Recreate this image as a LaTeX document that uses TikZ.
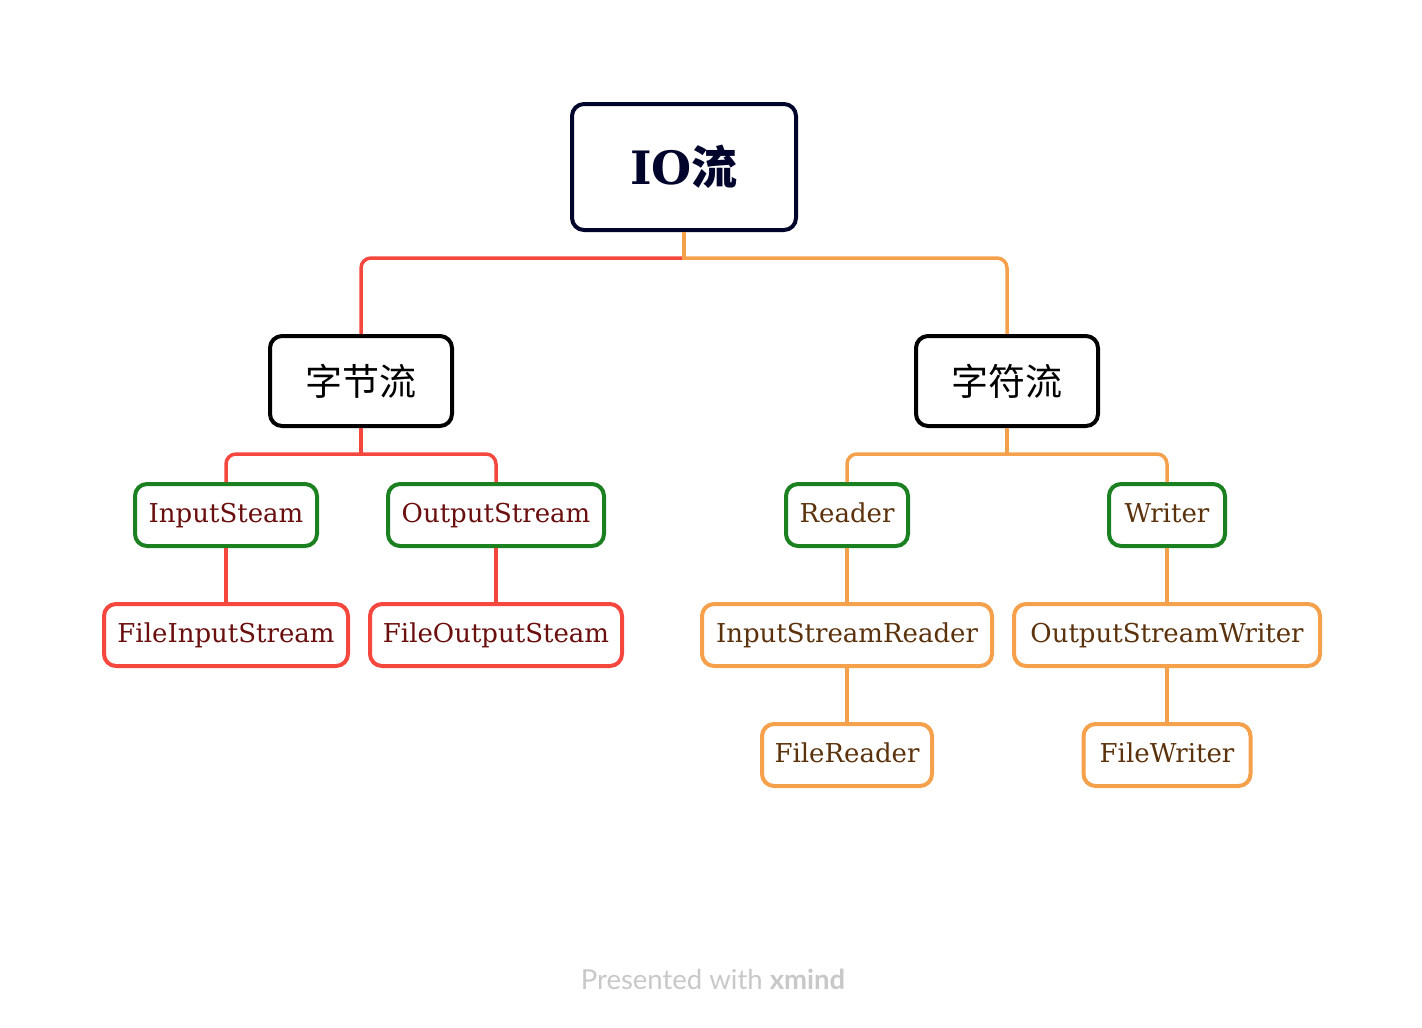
\documentclass[tikz,border=0pt]{standalone}
\usepackage{fontspec}
\setmainfont{DejaVu Serif}
\newfontfamily\cjk{Noto Sans CJK SC}
\newfontfamily\footfont{Lato}
\definecolor{lred}{HTML}{F5473E}
\definecolor{lorange}{HTML}{F5A04A}
\definecolor{lgreen}{HTML}{1A8020}
\definecolor{navy}{HTML}{02052B}
\definecolor{tred}{HTML}{6A0E0E}
\definecolor{tbrown}{HTML}{5C320C}
\definecolor{footgray}{HTML}{C8C8C8}
\begin{document}
\begin{tikzpicture}[x=1pt,y=-1pt,
  box/.style={draw, rounded corners=12pt, line width=4pt, fill=white, align=center, inner sep=0pt, minimum height=62pt, font=\fontsize{26}{30}\selectfont},
  rootbox/.style={box, draw=navy, minimum width=224pt, minimum height=126pt, text=navy, font=\fontsize{46}{50}\selectfont\bfseries},
  subbox/.style={box, draw=black, minimum width=182pt, minimum height=90pt, font=\cjk\fontsize{37}{40}\selectfont},
  leaf/.style={box, text height=19.5pt, text depth=4pt},
  gbox/.style={leaf, draw=lgreen},
  rbox/.style={leaf, draw=lred, text=tred},
  obox/.style={leaf, draw=lorange, text=tbrown},
  redline/.style={draw=lred, line width=3.5pt, rounded corners=10pt},
  orgline/.style={draw=lorange, line width=3.5pt, rounded corners=10pt}
]
\useasboundingbox (0,0) rectangle (1422,1028);
% nodes
\node[rootbox] (root) at (684,167) {IO{\cjk\bfseries 流}};
\node[subbox] (zj) at (361,381) {字节流};
\node[subbox] (zf) at (1007,381) {字符流};
\node[gbox, text=tred, minimum width=182pt] (is) at (226,515) {InputSteam};
\node[gbox, text=tred, minimum width=216pt] (os) at (496,515) {OutputStream};
\node[gbox, text=tbrown, minimum width=122pt] (rd) at (847,515) {Reader};
\node[gbox, text=tbrown, minimum width=116pt] (wr) at (1167,515) {Writer};
\node[rbox, minimum width=244pt] (fis) at (226,635) {FileInputStream};
\node[rbox, minimum width=252pt] (fos) at (496,635) {FileOutputSteam};
\node[obox, minimum width=290pt] (isr) at (847,635) {InputStreamReader};
\node[obox, minimum width=306pt] (osw) at (1167,635) {OutputStreamWriter};
\node[obox, minimum width=170pt] (fr) at (847,755) {FileReader};
\node[obox, minimum width=167pt] (fw) at (1167,755) {FileWriter};
% junction coordinates (canvas yshift: negative goes down)
\coordinate (rj) at ([yshift=-26pt]root.south);
\coordinate (zjj) at ([yshift=-26pt]zj.south);
\coordinate (zfj) at ([yshift=-26pt]zf.south);
% connectors
\path[redline] (rj) -| (zj.north);
\path[orgline] (rj) -| (zf.north);
\path[orgline] (root.south) -- ([yshift=-1.75pt]rj);
\path[redline] (zj.south) -- ([yshift=-1.75pt]zjj);
\path[redline] (zjj) -| (is.north);
\path[redline] (zjj) -| (os.north);
\path[redline] (is.south) -- (fis.north);
\path[redline] (os.south) -- (fos.north);
\path[orgline] (zf.south) -- ([yshift=-1.75pt]zfj);
\path[orgline] (zfj) -| (rd.north);
\path[orgline] (zfj) -| (wr.north);
\path[orgline] (rd.south) -- (isr.north);
\path[orgline] (isr.south) -- (fr.north);
\path[orgline] (wr.south) -- (osw.north);
\path[orgline] (osw.south) -- (fw.north);
% footer
\node[text=footgray, font=\footfont\fontsize{27.5}{30}\selectfont, inner sep=0pt] (foot) at (713,979) {Presented with \textbf{xmind}};
\end{tikzpicture}
\end{document}
